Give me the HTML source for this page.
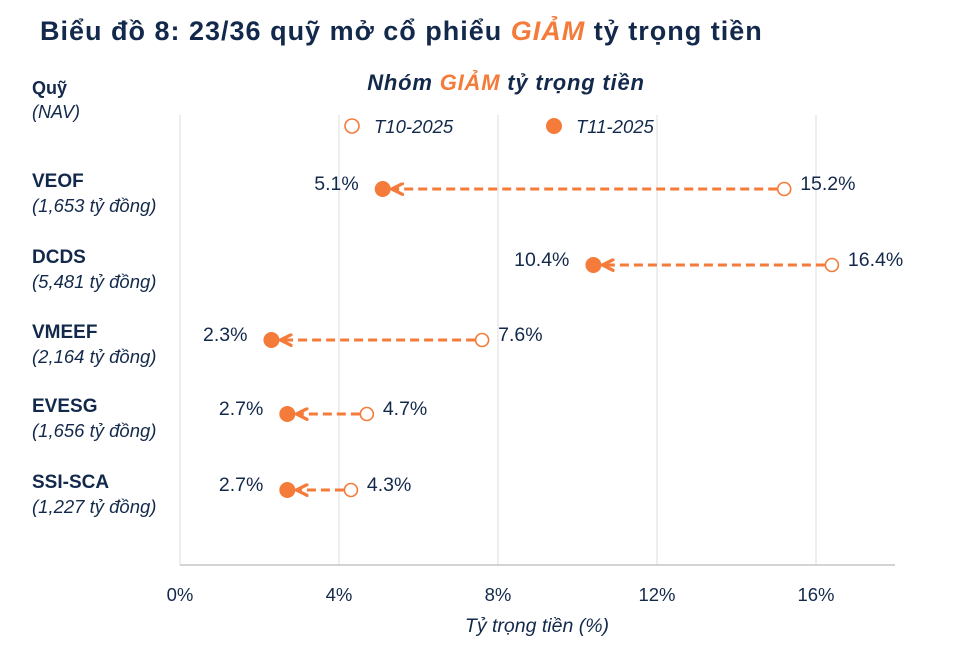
<!DOCTYPE html>
<html><head><meta charset="utf-8"><style>
body{margin:0;background:#fff;width:958px;height:645px;overflow:hidden;font-family:"Liberation Sans","Noto Sans CJK SC",sans-serif;}
</style></head><body>
<svg width="958" height="645" xmlns="http://www.w3.org/2000/svg">
<defs><marker id="ah" viewBox="0 0 10 10" refX="9" refY="5" markerWidth="4.5" markerHeight="4.5" orient="auto"><path d="M0,0.5 L9,5 L0,9.5" fill="none" stroke="#F47B3A" stroke-width="2.4"/></marker></defs>
<text x="40" y="40" font-size="27" font-weight="bold" fill="#13294B" letter-spacing="1">Biểu đồ 8: 23/36 quỹ mở cổ phiểu <tspan fill="#F47B3A" font-style="italic">GIẢM</tspan> tỷ trọng tiền</text>
<text x="506" y="90" font-size="22" font-weight="bold" font-style="italic" fill="#13294B" text-anchor="middle" letter-spacing="0.8">Nhóm <tspan fill="#F47B3A">GIẢM</tspan> tỷ trọng tiền</text>
<text x="32" y="94" font-size="18" font-weight="bold" fill="#13294B">Quỹ</text>
<text x="32" y="118" font-size="18" font-style="italic" fill="#13294B">(NAV)</text>
<g id="grid"></g>
<line x1="180" y1="565" x2="895" y2="565" stroke="#bbb" stroke-width="1.2"/>
<g>
<circle cx="352" cy="126" r="7" fill="#fff" stroke="#F47B3A" stroke-width="1.6"/>
<text x="374" y="133" font-size="18.5" font-style="italic" fill="#13294B">T10-2025</text>
<circle cx="554" cy="126" r="8" fill="#F47B3A"/>
<text x="576" y="133" font-size="18.5" font-style="italic" fill="#13294B">T11-2025</text>
</g>
<g id="marks"></g>
<text x="537" y="632" font-size="19.5" font-style="italic" fill="#13294B" text-anchor="middle">Tỷ trọng tiền (%)</text>
</svg>
<script>
const funds=["VEOF","DCDS","VMEEF","EVESG","SSI-SCA"];
const navs=["(1,653 tỷ đồng)","(5,481 tỷ đồng)","(2,164 tỷ đồng)","(1,656 tỷ đồng)","(1,227 tỷ đồng)"];
const t10=[15.2,16.4,7.6,4.7,4.3];
const t11=[5.1,10.4,2.3,2.7,2.7];
const ticks=[0,4,8,12,16];
const NS="http://www.w3.org/2000/svg";
const x=v=>180+v*39.75;
const rowY=[189,265,340,414,490];
const y=i=>rowY[i];
function mk(tag,attrs,parent,txt){const e=document.createElementNS(NS,tag);for(const k in attrs)e.setAttribute(k,attrs[k]);if(txt!==undefined)e.textContent=txt;parent.appendChild(e);return e;}
const grid=document.getElementById('grid'),marks=document.getElementById('marks'),svg=document.querySelector('svg');
ticks.forEach(t=>{
 const l=mk('line',{x1:x(t),x2:x(t),y1:115,y2:565,stroke:'#e3e3e3','stroke-width':1.2},grid);
 
 
 const tx=mk('text',{x:x(t),y:601,'font-size':18.5,fill:'#13294B','text-anchor':'middle'},svg,t+'%');
 
 
});
funds.forEach((f,i)=>{
 const yy=y(i);
 const a=mk('text',{x:32,y:yy-2,'font-size':19,'font-weight':'bold',fill:'#13294B'},svg,f);
 
 
 const b=mk('text',{x:32,y:yy+23,'font-size':18.5,'font-style':'italic',fill:'#13294B'},svg,navs[i]);
 
 
 const ln=mk('line',{x1:x(t10[i])-7,y1:yy,x2:x(t11[i])+9,y2:yy,stroke:'#F47B3A','stroke-width':3,'stroke-dasharray':'9 5','marker-end':'url(#ah)'},marks);
 
 
 const c1=mk('circle',{cx:x(t10[i]),cy:yy,r:6.5,fill:'#fff',stroke:'#F47B3A','stroke-width':1.6},marks);
 
 
 const c2=mk('circle',{cx:x(t11[i]),cy:yy,r:8,fill:'#F47B3A'},marks);
 
 
 const l1=mk('text',{x:x(t10[i])+16,y:yy+1,'font-size':19.5,fill:'#13294B'},marks,t10[i].toFixed(1)+'%');
 
 
 const l2=mk('text',{x:x(t11[i])-24,y:yy+1,'font-size':19.5,fill:'#13294B','text-anchor':'end'},marks,t11[i].toFixed(1)+'%');
 
 
});
</script>
</body></html>
